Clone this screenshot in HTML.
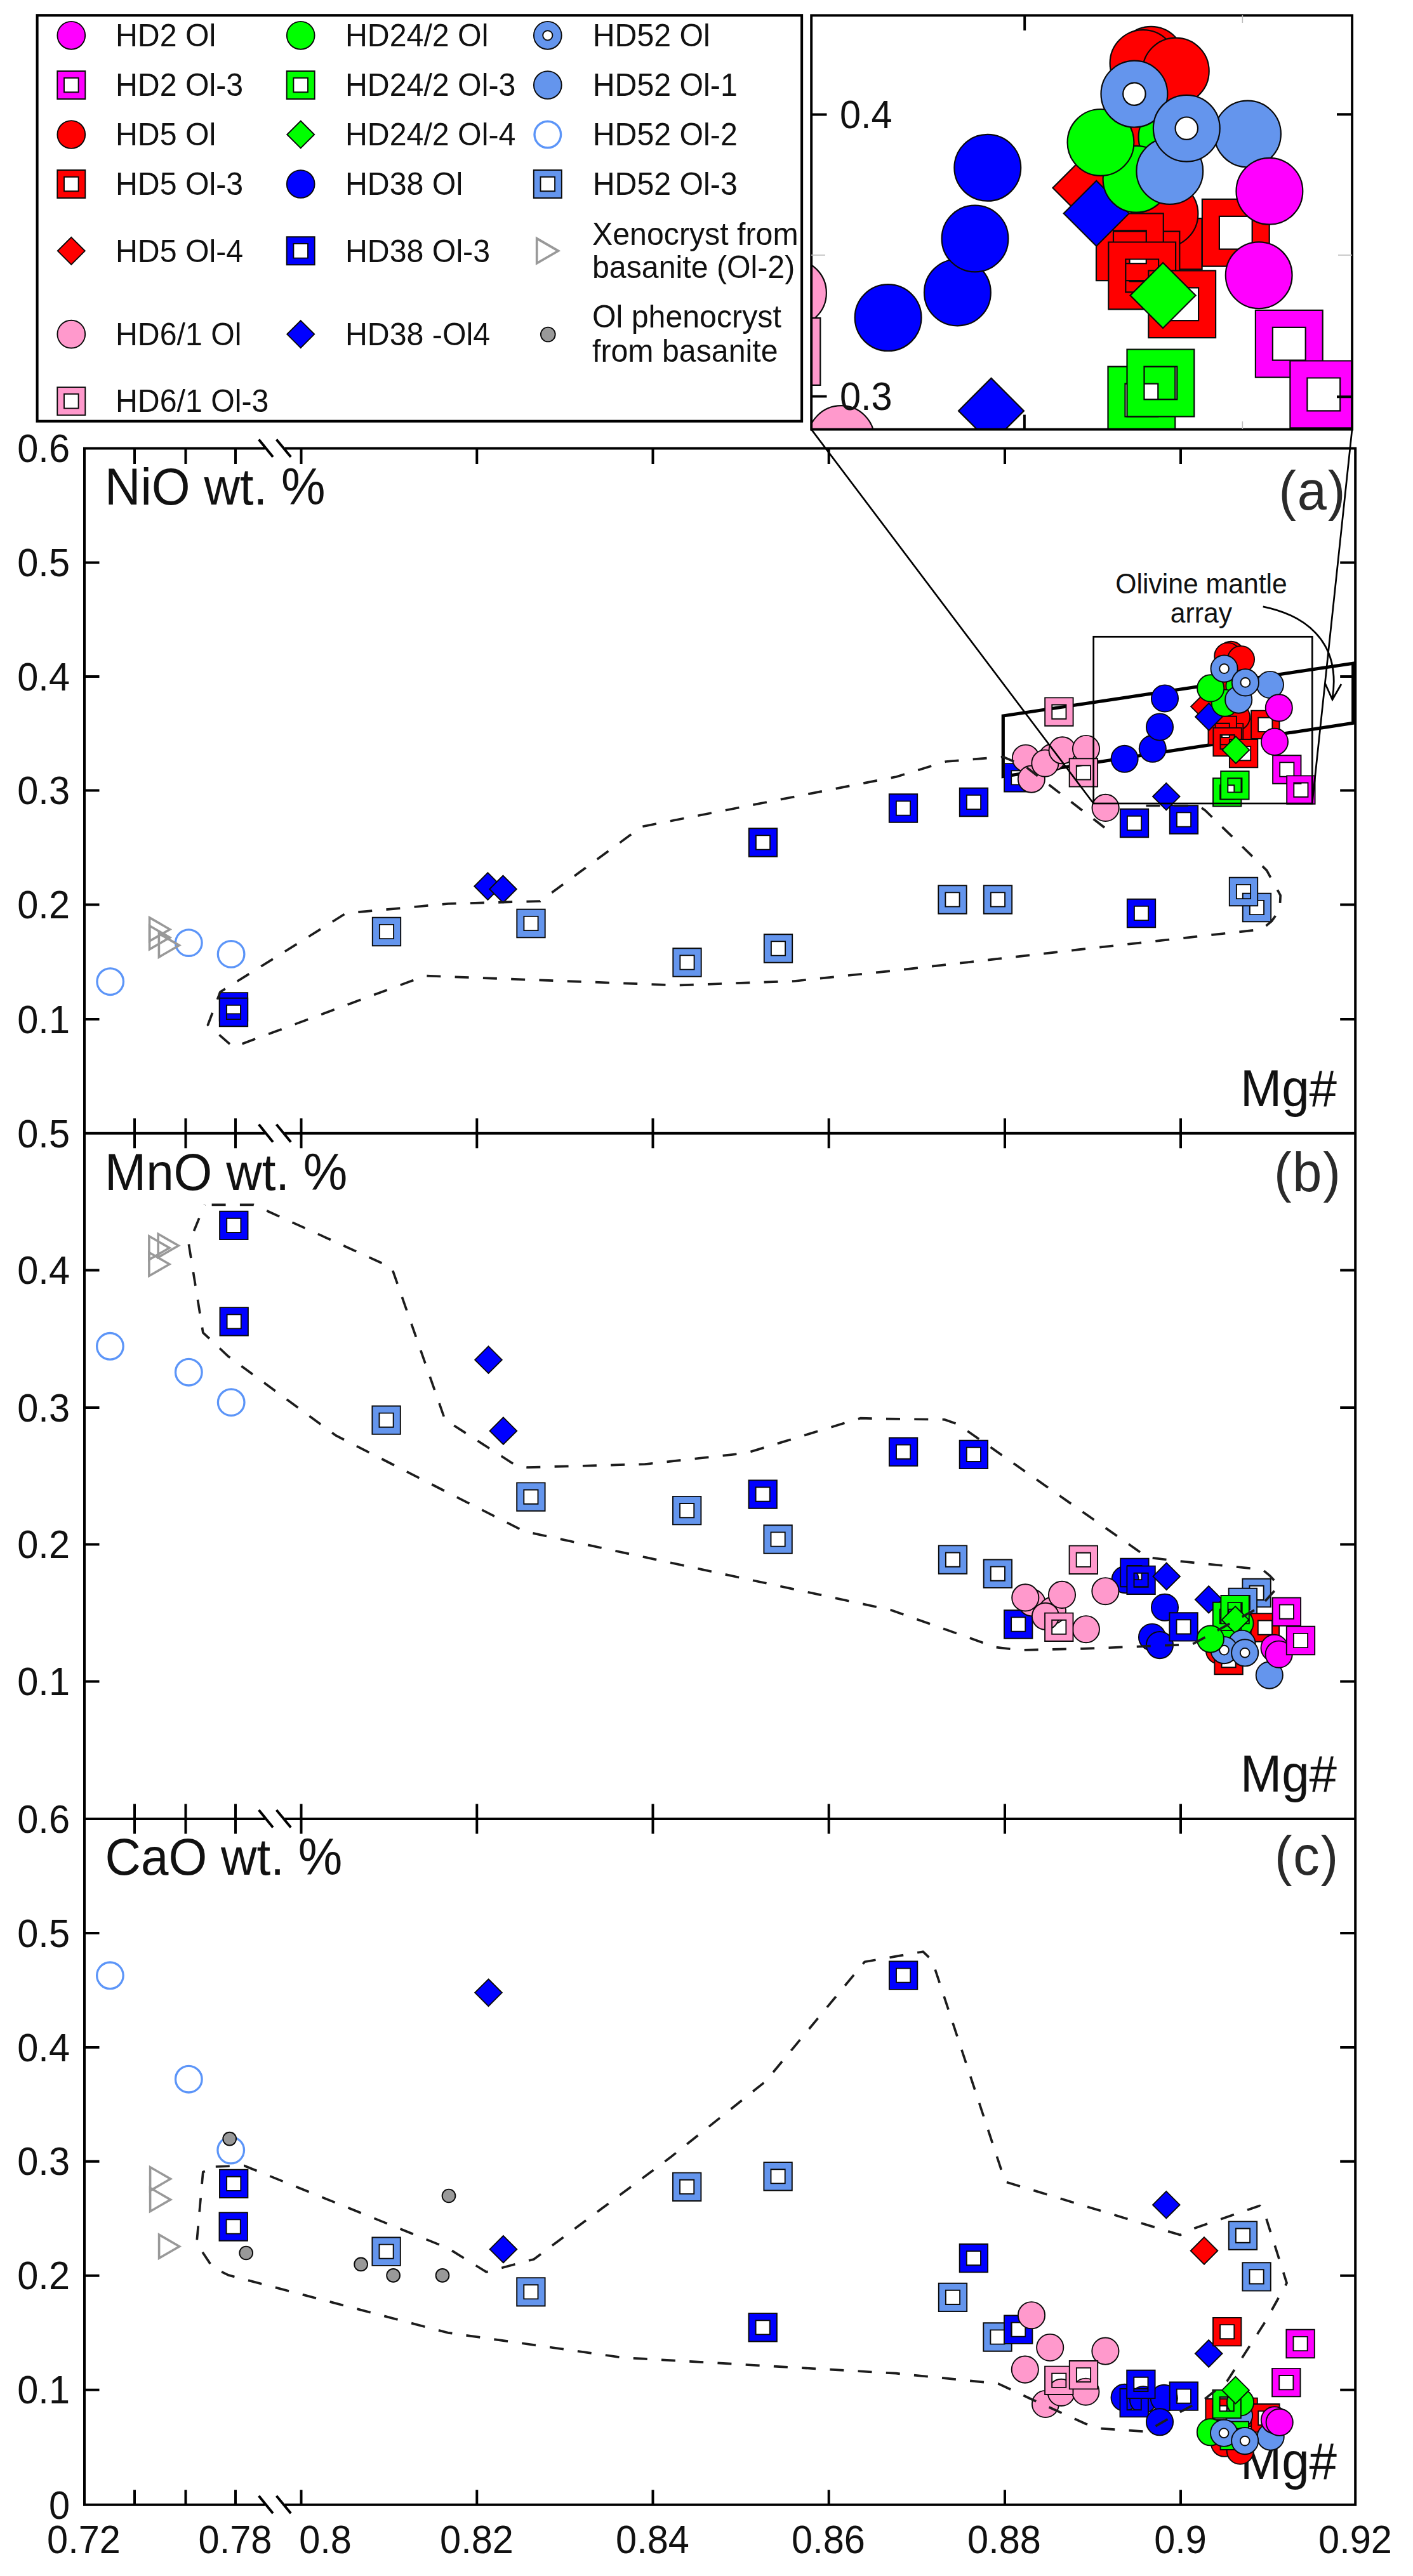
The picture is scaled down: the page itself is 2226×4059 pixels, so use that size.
<!DOCTYPE html>
<html><head><meta charset="utf-8"><title>Olivine composition plots</title>
<style>html,body{margin:0;padding:0;background:#fff}svg{display:block}text{font-family:"Liberation Sans",sans-serif;fill:#111}</style></head><body>
<svg width="2226" height="4059" viewBox="0 0 2226 4059">
<rect width="2226" height="4059" fill="#fff"/>
<defs><clipPath id="ic"><rect x="1278.2" y="24.3" width="851.9" height="652.3"/></clipPath></defs>
<g id="legend">
<rect x="58.6" y="24.2" width="1204.5" height="639.5" fill="#fff" stroke="#000" stroke-width="4.1"/>
<g stroke="#0a0a0a" stroke-width="1.9" fill-rule="evenodd">
<circle cx="112.3" cy="55.8" r="21.9" fill="#ff00ff"/><path d="M90.3 112h44v44h-44zM101 122.7h22.6v22.6h-22.6z" fill="#ff00ff"/><circle cx="112.3" cy="212" r="21.9" fill="#ff0000"/><path d="M90.3 268h44v44h-44zM101 278.7h22.6v22.6h-22.6z" fill="#ff0000"/><path d="M112.3 373.8l21.5 21.5l-21.5 21.5l-21.5 -21.5z" fill="#ff0000"/><circle cx="112.3" cy="526.6" r="21.9" fill="#ff99cc"/><path d="M90.3 610.1h44v44h-44zM101 620.8h22.6v22.6h-22.6z" fill="#ff99cc"/>
<circle cx="473.7" cy="55.8" r="21.9" fill="#00ff00"/><path d="M451.7 112h44v44h-44zM462.4 122.7h22.6v22.6h-22.6z" fill="#00ff00"/><path d="M473.7 190.5l21.5 21.5l-21.5 21.5l-21.5 -21.5z" fill="#00ff00"/><circle cx="473.7" cy="290" r="21.9" fill="#0000ff"/><path d="M451.7 373.3h44v44h-44zM462.4 384h22.6v22.6h-22.6z" fill="#0000ff"/><path d="M473.7 505.1l21.5 21.5l-21.5 21.5l-21.5 -21.5z" fill="#0000ff"/>
<circle cx="862.8" cy="55.8" r="21.9" fill="#6495ed"/><circle cx="862.8" cy="55.8" r="7.6" fill="#fff"/><circle cx="862.8" cy="134" r="21.9" fill="#6495ed"/><path d="M840.8 268h44v44h-44zM851.5 278.7h22.6v22.6h-22.6z" fill="#6495ed"/><circle cx="863.3" cy="527" r="11.4" fill="#999999"/>
</g>
<circle cx="862.8" cy="212" r="20.8" fill="none" stroke="#5c95f8" stroke-width="3.4"/>
<path d="M845.7 375.8v39L879.5 395.3z" fill="none" stroke="#999" stroke-width="3.7"/>
<g>
<text transform="translate(182 73) scale(1 1.045)" font-size="48.3">HD2 Ol</text>
<text transform="translate(182 151.2) scale(1 1.045)" font-size="48.3">HD2 Ol-3</text>
<text transform="translate(182 229.2) scale(1 1.045)" font-size="48.3">HD5 Ol</text>
<text transform="translate(182 307.2) scale(1 1.045)" font-size="48.3">HD5 Ol-3</text>
<text transform="translate(182 412.5) scale(1 1.045)" font-size="48.3">HD5 Ol-4</text>
<text transform="translate(182 543.8) scale(1 1.045)" font-size="48.3">HD6/1 Ol</text>
<text transform="translate(182 649.3) scale(1 1.045)" font-size="48.3">HD6/1 Ol-3</text>
<text transform="translate(544 73) scale(1 1.045)" font-size="48.3">HD24/2 Ol</text>
<text transform="translate(544 151.2) scale(1 1.045)" font-size="48.3">HD24/2 Ol-3</text>
<text transform="translate(544 229.2) scale(1 1.045)" font-size="48.3">HD24/2 Ol-4</text>
<text transform="translate(544 307.2) scale(1 1.045)" font-size="48.3">HD38 Ol</text>
<text transform="translate(544 412.5) scale(1 1.045)" font-size="48.3">HD38 Ol-3</text>
<text transform="translate(544 543.8) scale(1 1.045)" font-size="48.3">HD38 -Ol4</text>
<text transform="translate(933.7 73) scale(1 1.045)" font-size="48.3">HD52 Ol</text>
<text transform="translate(933.7 151.2) scale(1 1.045)" font-size="48.3">HD52 Ol-1</text>
<text transform="translate(933.7 229.2) scale(1 1.045)" font-size="48.3">HD52 Ol-2</text>
<text transform="translate(933.7 307.2) scale(1 1.045)" font-size="48.3">HD52 Ol-3</text>
<text transform="translate(933 385.8) scale(1 1.045)" font-size="48.3">Xenocryst from</text><text transform="translate(933 437.9) scale(1 1.045)" font-size="48.3">basanite (Ol-2)</text>
<text transform="translate(933 516.2) scale(1 1.045)" font-size="48.3">Ol phenocryst</text><text transform="translate(933 570.1) scale(1 1.045)" font-size="48.3">from basanite</text>
</g></g>
<g id="inset">
<g clip-path="url(#ic)" stroke="#0a0a0a" stroke-width="2.2" fill-rule="evenodd">
<path d="M1384.3 698.4h105.8v105.8h-105.8zM1411.3 725.4h51.8v51.8h-51.8z" fill="#0000ff"/>
<path d="M1577 684.8h105.8v105.8h-105.8zM1604 711.8h51.8v51.8h-51.8z" fill="#0000ff"/>
<circle cx="1821" cy="218" r="52.4" fill="#ff0000"/>
<circle cx="1813.4" cy="94.3" r="52.4" fill="#ff0000"/>
<circle cx="1801" cy="99.6" r="52.4" fill="#ff0000"/>
<circle cx="1852.3" cy="112" r="52.4" fill="#ff0000"/>
<path d="M1857 344.2H1893.6V424.4H1857z" fill="#ff0000"/>
<circle cx="1835" cy="337" r="52.4" fill="#ff0000"/>
<path d="M1893.9 313.9h105.8v105.8h-105.8zM1920.9 340.9h51.8v51.8h-51.8z" fill="#ff0000"/>
<path d="M1752.5 364.7h105.8v105.8h-105.8zM1779.5 391.7h51.8v51.8h-51.8z" fill="#ff0000"/>
<path d="M1727 336.4h105.8v105.8h-105.8zM1754 363.4h51.8v51.8h-51.8z" fill="#ff0000"/>
<path d="M1746.3 381.5h105.8v105.8h-105.8zM1773.3 408.5h51.8v51.8h-51.8z" fill="#ff0000"/>
<path d="M1809.3 426.3h105.8v105.8h-105.8zM1836.3 453.3h51.8v51.8h-51.8z" fill="#ff0000"/>
<path d="M1710 244.5l51.5 51.5l-51.5 51.5l-51.5 -51.5z" fill="#ff0000"/>
<circle cx="1399.1" cy="500.6" r="52.4" fill="#0000ff"/>
<circle cx="1508.4" cy="460.9" r="52.4" fill="#0000ff"/>
<circle cx="1536" cy="376" r="52.4" fill="#0000ff"/>
<circle cx="1555.8" cy="264.3" r="52.4" fill="#0000ff"/>
<path d="M1727.2 284.7l51.5 51.5l-51.5 51.5l-51.5 -51.5z" fill="#0000ff"/>
<path d="M1561.5 595.9l51.5 51.5l-51.5 51.5l-51.5 -51.5z" fill="#0000ff"/>
<circle cx="1249.5" cy="461.4" r="52.4" fill="#ff99cc"/>
<circle cx="1325.1" cy="691.6" r="52.4" fill="#ff99cc"/>
<path d="M1186.5 501.1h105.8v105.8h-105.8zM1213.5 528.1h51.8v51.8h-51.8z" fill="#ff99cc"/>
<path d="M1745.5 577.7h105.8v105.8h-105.8zM1772.5 604.7h51.8v51.8h-51.8z" fill="#00ff00"/>
<path d="M1775.5 550.5h105.8v105.8h-105.8zM1802.5 577.5h51.8v51.8h-51.8z" fill="#00ff00"/>
<circle cx="1846" cy="216" r="52.4" fill="#00ff00"/>
<circle cx="1790" cy="282.3" r="52.4" fill="#00ff00"/>
<circle cx="1734" cy="224.4" r="52.4" fill="#00ff00"/>
<path d="M1832.1 414l51.5 51.5l-51.5 51.5l-51.5 -51.5z" fill="#00ff00"/>
<circle cx="1965.5" cy="211.1" r="52.4" fill="#6495ed"/>
<circle cx="1842.8" cy="269.5" r="52.4" fill="#6495ed"/>
<circle cx="1786.9" cy="148.1" r="52.4" fill="#6495ed"/><circle cx="1786.9" cy="148.1" r="17.7" fill="#fff"/>
<circle cx="1869.3" cy="202.2" r="52.4" fill="#6495ed"/><circle cx="1869.3" cy="202.2" r="17.7" fill="#fff"/>
<circle cx="1999.9" cy="301.3" r="52.4" fill="#ff00ff"/>
<circle cx="1983.2" cy="433.7" r="52.4" fill="#ff00ff"/>
<path d="M1977.9 488.9h105.8v105.8h-105.8zM2004.9 515.9h51.8v51.8h-51.8z" fill="#ff00ff"/>
<path d="M2032.4 568.5h105.8v105.8h-105.8zM2059.4 595.5h51.8v51.8h-51.8z" fill="#ff00ff"/>
</g>
<g stroke="#000" stroke-width="3.9" fill="none"><rect x="1278.2" y="24.3" width="851.9" height="652.3"/>
<path d="M1614.2 24v24M1613.9 676.6v-23M1278 180.5h24.5M1278 624.6h24.5M2130 180.3h-24M2130 625.2h-24"/></g>
<path d="M1957.4 24v12M1957.4 676v-12M1278 402h22M2130 402h-22" stroke="#bbb" stroke-width="1.5" fill="none"/>
<text transform="translate(1323 201.5) scale(1 1.045)" font-size="59.5">0.4</text><text transform="translate(1323 646) scale(1 1.045)" font-size="59.5">0.3</text>
</g>
<path d="M1580.3 1128L2131.7 1045.2V1139.3L1580.3 1223.5Z" fill="none" stroke="#000" stroke-width="5.2"/>
<g id="pa" stroke="#0a0a0a" stroke-width="1.9" fill-rule="evenodd">
<circle cx="173.7" cy="1546.7" r="20.8" fill="none" stroke="#5c95f8" stroke-width="3.3"/>
<circle cx="297.3" cy="1485.6" r="20.8" fill="none" stroke="#5c95f8" stroke-width="3.3"/>
<circle cx="364.1" cy="1503.4" r="20.8" fill="none" stroke="#5c95f8" stroke-width="3.3"/>
<path d="M235.6 1445.9v37L267.6 1464.4z" fill="none" stroke="#999" stroke-width="3.6" stroke-linejoin="miter"/>
<path d="M235.6 1458.8v37L267.6 1477.3z" fill="none" stroke="#999" stroke-width="3.6" stroke-linejoin="miter"/>
<path d="M250.4 1471.1v37L282.4 1489.6z" fill="none" stroke="#999" stroke-width="3.6" stroke-linejoin="miter"/>
<path d="M345.8 1564.1h44.4v44.4h-44.4zM356.9 1575.2h22.2v22.2h-22.2z" fill="#0000ff"/>
<path d="M345.8 1572.8h44.4v44.4h-44.4zM356.9 1583.9h22.2v22.2h-22.2z" fill="#0000ff"/>
<path d="M586.8 1445.8h44.4v44.4h-44.4zM597.9 1456.9h22.2v22.2h-22.2z" fill="#6495ed"/>
<path d="M814.3 1432.8h44.4v44.4h-44.4zM825.4 1443.9h22.2v22.2h-22.2z" fill="#6495ed"/>
<path d="M1060.3 1494.3h44.4v44.4h-44.4zM1071.4 1505.4h22.2v22.2h-22.2z" fill="#6495ed"/>
<path d="M1203.8 1472.3h44.4v44.4h-44.4zM1214.9 1483.4h22.2v22.2h-22.2z" fill="#6495ed"/>
<path d="M1478.3 1395.3h44.4v44.4h-44.4zM1489.4 1406.4h22.2v22.2h-22.2z" fill="#6495ed"/>
<path d="M1549.8 1395.3h44.4v44.4h-44.4zM1560.9 1406.4h22.2v22.2h-22.2z" fill="#6495ed"/>
<path d="M1957.8 1407.8h44.4v44.4h-44.4zM1968.9 1418.9h22.2v22.2h-22.2z" fill="#6495ed"/>
<path d="M1936.8 1382.8h44.4v44.4h-44.4zM1947.9 1393.9h22.2v22.2h-22.2z" fill="#6495ed"/>
<path d="M768.5 1375.2l21.3 21.3l-21.3 21.3l-21.3 -21.3z" fill="#0000ff"/>
<path d="M792.5 1379.7l21.3 21.3l-21.3 21.3l-21.3 -21.3z" fill="#0000ff"/>
<path d="M1179.8 1305.3h44.4v44.4h-44.4zM1190.9 1316.4h22.2v22.2h-22.2z" fill="#0000ff"/>
<path d="M1400.8 1251.3h44.4v44.4h-44.4zM1411.9 1262.4h22.2v22.2h-22.2z" fill="#0000ff"/>
<path d="M1511.8 1241.8h44.4v44.4h-44.4zM1522.9 1252.9h22.2v22.2h-22.2z" fill="#0000ff"/>
<path d="M1582.1 1203.1h44.4v44.4h-44.4zM1593.2 1214.2h22.2v22.2h-22.2z" fill="#0000ff"/>
<path d="M1764.8 1274.8h44.4v44.4h-44.4zM1775.9 1285.9h22.2v22.2h-22.2z" fill="#0000ff"/>
<path d="M1842.8 1269.3h44.4v44.4h-44.4zM1853.9 1280.4h22.2v22.2h-22.2z" fill="#0000ff"/>
<path d="M1775.8 1416.8h44.4v44.4h-44.4zM1786.9 1427.9h22.2v22.2h-22.2z" fill="#0000ff"/>
<circle cx="1942.4" cy="1081.8" r="21.1" fill="#ff0000"/>
<circle cx="1939.3" cy="1031.9" r="21.1" fill="#ff0000"/>
<circle cx="1934.3" cy="1034" r="21.1" fill="#ff0000"/>
<circle cx="1955" cy="1039" r="21.1" fill="#ff0000"/>
<path d="M1957 1132.7H1971.8V1165.1H1957z" fill="#ff0000"/>
<circle cx="1948" cy="1129.8" r="21.1" fill="#ff0000"/>
<path d="M1971.1 1119.6h44.4v44.4h-44.4zM1982.2 1130.7h22.2v22.2h-22.2z" fill="#ff0000"/>
<path d="M1913.9 1140.1h44.4v44.4h-44.4zM1925 1151.2h22.2v22.2h-22.2z" fill="#ff0000"/>
<path d="M1903.5 1128.7h44.4v44.4h-44.4zM1914.6 1139.8h22.2v22.2h-22.2z" fill="#ff0000"/>
<path d="M1911.4 1146.9h44.4v44.4h-44.4zM1922.5 1158h22.2v22.2h-22.2z" fill="#ff0000"/>
<path d="M1936.9 1165h44.4v44.4h-44.4zM1948 1176.1h22.2v22.2h-22.2z" fill="#ff0000"/>
<path d="M1897.4 1092l21.3 21.3l-21.3 21.3l-21.3 -21.3z" fill="#ff0000"/>
<circle cx="1771.6" cy="1195.8" r="21.1" fill="#0000ff"/>
<circle cx="1815.8" cy="1179.8" r="21.1" fill="#0000ff"/>
<circle cx="1827" cy="1145.5" r="21.1" fill="#0000ff"/>
<circle cx="1835" cy="1100.5" r="21.1" fill="#0000ff"/>
<path d="M1904.4 1108.2l21.3 21.3l-21.3 21.3l-21.3 -21.3z" fill="#0000ff"/>
<path d="M1837.3 1233.8l21.3 21.3l-21.3 21.3l-21.3 -21.3z" fill="#0000ff"/>
<circle cx="1615.9" cy="1194.7" r="21.1" fill="#ff99cc"/>
<circle cx="1624.9" cy="1227.6" r="21.1" fill="#ff99cc"/>
<circle cx="1657.8" cy="1193.6" r="21.1" fill="#ff99cc"/>
<circle cx="1646.4" cy="1202.7" r="21.1" fill="#ff99cc"/>
<circle cx="1673.6" cy="1182.3" r="21.1" fill="#ff99cc"/>
<circle cx="1711" cy="1180" r="21.1" fill="#ff99cc"/>
<circle cx="1741.6" cy="1272.9" r="21.1" fill="#ff99cc"/>
<path d="M1646.2 1099.4h44.4v44.4h-44.4zM1657.3 1110.5h22.2v22.2h-22.2z" fill="#ff99cc"/>
<path d="M1684.7 1195.2h44.4v44.4h-44.4zM1695.8 1206.3h22.2v22.2h-22.2z" fill="#ff99cc"/>
<path d="M1911 1226.1h44.4v44.4h-44.4zM1922.1 1237.2h22.2v22.2h-22.2z" fill="#00ff00"/>
<path d="M1923.2 1215.1h44.4v44.4h-44.4zM1934.3 1226.2h22.2v22.2h-22.2z" fill="#00ff00"/>
<circle cx="1952.5" cy="1081" r="21.1" fill="#00ff00"/>
<circle cx="1929.8" cy="1107.7" r="21.1" fill="#00ff00"/>
<circle cx="1907.2" cy="1084.4" r="21.1" fill="#00ff00"/>
<path d="M1946.9 1160.4l21.3 21.3l-21.3 21.3l-21.3 -21.3z" fill="#00ff00"/>
<circle cx="2000.9" cy="1079" r="21.1" fill="#6495ed"/>
<circle cx="1951.2" cy="1102.6" r="21.1" fill="#6495ed"/>
<circle cx="1928.6" cy="1053.6" r="21.1" fill="#6495ed"/><circle cx="1928.6" cy="1053.6" r="7.4" fill="#fff"/>
<circle cx="1961.9" cy="1075.4" r="21.1" fill="#6495ed"/><circle cx="1961.9" cy="1075.4" r="7.4" fill="#fff"/>
<circle cx="2014.8" cy="1115.4" r="21.1" fill="#ff00ff"/>
<circle cx="2008" cy="1168.8" r="21.1" fill="#ff00ff"/>
<path d="M2005.1 1190.3h44.4v44.4h-44.4zM2016.2 1201.4h22.2v22.2h-22.2z" fill="#ff00ff"/>
<path d="M2027.2 1222.4h44.4v44.4h-44.4zM2038.3 1233.5h22.2v22.2h-22.2z" fill="#ff00ff"/>
</g>
<g fill="none" stroke="#000" stroke-width="2.7"><rect x="1722.7" y="1003.3" width="344.6" height="262.7"/><path d="M1278.2 676.6L1722.7 1266M2130 676.6L2067.2 1266"/>
<path d="M1989.7 955.8C2050 968 2114 1006 2099 1101M2087.6 1077L2099 1102.5L2113 1078" stroke-width="2.8"/></g>
<path d="M1740 1304 L1615 1207.5 L1580 1192.5 L1490 1200 L1412 1224 L1011 1302.5 L851 1420 L706 1424 L545 1439 L347 1563 L327.5 1615 L367.5 1650 L670 1537.5 L706 1539 L1066 1552.5 L1251 1546 L1412 1529 L1700 1496.2 L1987.9 1464.4 L2003.2 1451.7 L2016 1433.8 L2017.2 1410.9 L1995.5 1371.4 L1898.7 1277 L1888 1269.5 L1790 1269.5" fill="none" stroke="#1c1c1c" stroke-width="3.7" stroke-dasharray="22 22.3" stroke-dashoffset="0" stroke-linejoin="round"/>
<text transform="translate(1892.5 935) scale(1 1.045)" font-size="42.7" text-anchor="middle">Olivine mantle</text><text transform="translate(1892.5 981) scale(1 1.045)" font-size="42.7" text-anchor="middle">array</text>
<text transform="translate(165 794.5) scale(1 1.045)" font-size="78.2">NiO wt. %</text><text transform="translate(165 1874.5) scale(1 1.045)" font-size="78.2">MnO wt. %</text><text transform="translate(165.5 2953.5) scale(1 1.045)" font-size="78.2">CaO wt. %</text>
<text transform="translate(1954 1743) scale(1 1.045)" font-size="78.2">Mg#</text><text transform="translate(1954 2823) scale(1 1.045)" font-size="78.2">Mg#</text><text transform="translate(1954 3906.3) scale(1 1.045)" font-size="78.2">Mg#</text>
<text transform="translate(2014.5 802.5) scale(1 1.045)" font-size="83" style="fill:#2a2a2a;letter-spacing:1.7px">(a)</text><text transform="translate(2007 1877) scale(1 1.045)" font-size="83" style="fill:#2a2a2a;letter-spacing:1.7px">(b)</text><text transform="translate(2008 2954) scale(1 1.045)" font-size="83" style="fill:#2a2a2a;letter-spacing:1.7px">(c)</text>
<g id="pb" stroke="#0a0a0a" stroke-width="1.9" fill-rule="evenodd">
<circle cx="173.4" cy="2121.3" r="20.8" fill="none" stroke="#5c95f8" stroke-width="3.3"/>
<circle cx="297.3" cy="2162.2" r="20.8" fill="none" stroke="#5c95f8" stroke-width="3.3"/>
<circle cx="364.2" cy="2209.7" r="20.8" fill="none" stroke="#5c95f8" stroke-width="3.3"/>
<path d="M234.9 1947.8v37L266.9 1966.3z" fill="none" stroke="#999" stroke-width="3.6" stroke-linejoin="miter"/>
<path d="M249.2 1944.3v37L281.2 1962.8z" fill="none" stroke="#999" stroke-width="3.6" stroke-linejoin="miter"/>
<path d="M234.9 1973.5v37L266.9 1992z" fill="none" stroke="#999" stroke-width="3.6" stroke-linejoin="miter"/>
<path d="M346.1 1908.7h44.4v44.4h-44.4zM357.2 1919.8h22.2v22.2h-22.2z" fill="#0000ff"/>
<path d="M346.5 2060.1h44.4v44.4h-44.4zM357.6 2071.2h22.2v22.2h-22.2z" fill="#0000ff"/>
<path d="M586.4 2215.5h44.4v44.4h-44.4zM597.5 2226.6h22.2v22.2h-22.2z" fill="#6495ed"/>
<path d="M814.2 2336.4h44.4v44.4h-44.4zM825.3 2347.5h22.2v22.2h-22.2z" fill="#6495ed"/>
<path d="M1060 2357.9h44.4v44.4h-44.4zM1071.1 2369h22.2v22.2h-22.2z" fill="#6495ed"/>
<path d="M1203.4 2403.3h44.4v44.4h-44.4zM1214.5 2414.4h22.2v22.2h-22.2z" fill="#6495ed"/>
<path d="M1478.8 2435.4h44.4v44.4h-44.4zM1489.9 2446.5h22.2v22.2h-22.2z" fill="#6495ed"/>
<path d="M1549.7 2457.5h44.4v44.4h-44.4zM1560.8 2468.6h22.2v22.2h-22.2z" fill="#6495ed"/>
<path d="M1957.4 2487.7h44.4v44.4h-44.4zM1968.5 2498.8h22.2v22.2h-22.2z" fill="#6495ed"/>
<path d="M1935.7 2502.8h44.4v44.4h-44.4zM1946.8 2513.9h22.2v22.2h-22.2z" fill="#6495ed"/>
<path d="M769.5 2121.4l21.3 21.3l-21.3 21.3l-21.3 -21.3z" fill="#0000ff"/>
<path d="M792.9 2233.4l21.3 21.3l-21.3 21.3l-21.3 -21.3z" fill="#0000ff"/>
<circle cx="1921" cy="2601" r="21.1" fill="#ff0000"/>
<path d="M1913.4 2593.9h44.4v44.4h-44.4zM1924.5 2605h22.2v22.2h-22.2z" fill="#ff0000"/>
<path d="M1970.7 2542.4h44.4v44.4h-44.4zM1981.8 2553.5h22.2v22.2h-22.2z" fill="#ff0000"/>
<circle cx="1772.7" cy="2489.1" r="21.1" fill="#0000ff"/>
<circle cx="1835" cy="2532.8" r="21.1" fill="#0000ff"/>
<circle cx="1815" cy="2579.7" r="21.1" fill="#0000ff"/>
<circle cx="1827" cy="2592.1" r="21.1" fill="#0000ff"/>
<path d="M1179.5 2332.4h44.4v44.4h-44.4zM1190.6 2343.5h22.2v22.2h-22.2z" fill="#0000ff"/>
<path d="M1400.9 2265.5h44.4v44.4h-44.4zM1412 2276.6h22.2v22.2h-22.2z" fill="#0000ff"/>
<path d="M1511.7 2269.7h44.4v44.4h-44.4zM1522.8 2280.8h22.2v22.2h-22.2z" fill="#0000ff"/>
<path d="M1582 2537.3h44.4v44.4h-44.4zM1593.1 2548.4h22.2v22.2h-22.2z" fill="#0000ff"/>
<path d="M1765.2 2455.8h44.4v44.4h-44.4zM1776.3 2466.9h22.2v22.2h-22.2z" fill="#0000ff"/>
<path d="M1775.4 2467.6h44.4v44.4h-44.4zM1786.5 2478.7h22.2v22.2h-22.2z" fill="#0000ff"/>
<path d="M1842.4 2541.2h44.4v44.4h-44.4zM1853.5 2552.3h22.2v22.2h-22.2z" fill="#0000ff"/>
<path d="M1837.7 2462.6l21.3 21.3l-21.3 21.3l-21.3 -21.3z" fill="#0000ff"/>
<path d="M1904.2 2499.1l21.3 21.3l-21.3 21.3l-21.3 -21.3z" fill="#0000ff"/>
<circle cx="1625.5" cy="2525.3" r="21.1" fill="#ff99cc"/>
<circle cx="1658" cy="2537.8" r="21.1" fill="#ff99cc"/>
<circle cx="1615.3" cy="2517.4" r="21.1" fill="#ff99cc"/>
<circle cx="1647" cy="2546.8" r="21.1" fill="#ff99cc"/>
<circle cx="1673" cy="2512.9" r="21.1" fill="#ff99cc"/>
<circle cx="1741.4" cy="2507.2" r="21.1" fill="#ff99cc"/>
<circle cx="1710.9" cy="2567.2" r="21.1" fill="#ff99cc"/>
<path d="M1684.6 2435.6h44.4v44.4h-44.4zM1695.7 2446.7h22.2v22.2h-22.2z" fill="#ff99cc"/>
<path d="M1646.1 2541.6h44.4v44.4h-44.4zM1657.2 2552.7h22.2v22.2h-22.2z" fill="#ff99cc"/>
<circle cx="1953.5" cy="2557.8" r="21.1" fill="#00ff00"/>
<circle cx="1933.6" cy="2567" r="21.1" fill="#00ff00"/>
<path d="M1910.8 2524.7h44.4v44.4h-44.4zM1921.9 2535.8h22.2v22.2h-22.2z" fill="#00ff00"/>
<path d="M1923.4 2514h44.4v44.4h-44.4zM1934.5 2525.1h22.2v22.2h-22.2z" fill="#00ff00"/>
<path d="M1946.1 2531.1l21.3 21.3l-21.3 21.3l-21.3 -21.3z" fill="#00ff00"/>
<circle cx="1956.5" cy="2590" r="21.1" fill="#6495ed"/>
<circle cx="1999.8" cy="2639.6" r="21.1" fill="#6495ed"/>
<circle cx="1928.5" cy="2600.1" r="21.1" fill="#6495ed"/><circle cx="1928.5" cy="2600.1" r="7.4" fill="#fff"/>
<circle cx="1906.9" cy="2582.6" r="21.1" fill="#00ff00"/>
<circle cx="1961.2" cy="2604.3" r="21.1" fill="#6495ed"/><circle cx="1961.2" cy="2604.3" r="7.4" fill="#fff"/>
<circle cx="2007.6" cy="2596.8" r="21.1" fill="#ff00ff"/>
<circle cx="2014.7" cy="2606.7" r="21.1" fill="#ff00ff"/>
<path d="M2004.7 2517.5h44.4v44.4h-44.4zM2015.8 2528.6h22.2v22.2h-22.2z" fill="#ff00ff"/>
<path d="M2026.8 2562.8h44.4v44.4h-44.4zM2037.9 2573.9h22.2v22.2h-22.2z" fill="#ff00ff"/>
</g>
<path d="M322.3 1898.4 L399.7 1898.4 L617.1 1997.3 L701 2237 L813.4 2309.6 L830.9 2312.1 L1015.8 2307.1 L1175.7 2289.6 L1355.5 2234.7 L1395.5 2235.7 L1487.8 2236.8 L1508.7 2244 L1807.8 2454 L1860 2460.2 L1988.8 2473.1 L2000.8 2483.2 L2014.9 2498.5 L1985.1 2532 L1878.4 2590.9 L1796.5 2594.4 L1705.9 2597.8 L1606.2 2600 L1568.3 2595.5 L1403.6 2536.9 L825.9 2412.9 L706 2352.1 L529.6 2262.2 L359.7 2137.3 L319.8 2099.8 L297.3 1959.9 Z" fill="none" stroke="#1c1c1c" stroke-width="3.7" stroke-dasharray="22 22.3" stroke-dashoffset="33" stroke-linejoin="round"/>
<g id="pc" stroke="#0a0a0a" stroke-width="1.9" fill-rule="evenodd">
<circle cx="173.4" cy="3112.8" r="20.8" fill="none" stroke="#5c95f8" stroke-width="3.3"/>
<circle cx="297.3" cy="3276.2" r="20.8" fill="none" stroke="#5c95f8" stroke-width="3.3"/>
<circle cx="363.7" cy="3388.1" r="20.8" fill="none" stroke="#5c95f8" stroke-width="3.3"/>
<path d="M236.6 3414.8v37L268.6 3433.3z" fill="none" stroke="#999" stroke-width="3.6" stroke-linejoin="miter"/>
<path d="M236.6 3447.5v37L268.6 3466z" fill="none" stroke="#999" stroke-width="3.6" stroke-linejoin="miter"/>
<path d="M250.6 3521.2v37L282.6 3539.7z" fill="none" stroke="#999" stroke-width="3.6" stroke-linejoin="miter"/>
<circle cx="361.7" cy="3370.1" r="10.4" fill="#999999"/>
<circle cx="387.7" cy="3550" r="10.4" fill="#999999"/>
<circle cx="568.6" cy="3567.9" r="10.4" fill="#999999"/>
<circle cx="619.6" cy="3585.4" r="10.4" fill="#999999"/>
<circle cx="697" cy="3585.4" r="10.4" fill="#999999"/>
<circle cx="707" cy="3460" r="10.4" fill="#999999"/>
<path d="M346 3418.6h44.4v44.4h-44.4zM357.1 3429.7h22.2v22.2h-22.2z" fill="#0000ff"/>
<path d="M345.5 3486.3h44.4v44.4h-44.4zM356.6 3497.4h22.2v22.2h-22.2z" fill="#0000ff"/>
<path d="M586.4 3525.5h44.4v44.4h-44.4zM597.5 3536.6h22.2v22.2h-22.2z" fill="#6495ed"/>
<path d="M814.2 3589.1h44.4v44.4h-44.4zM825.3 3600.2h22.2v22.2h-22.2z" fill="#6495ed"/>
<path d="M1060 3423.6h44.4v44.4h-44.4zM1071.1 3434.7h22.2v22.2h-22.2z" fill="#6495ed"/>
<path d="M1203.4 3407.1h44.4v44.4h-44.4zM1214.5 3418.2h22.2v22.2h-22.2z" fill="#6495ed"/>
<path d="M1478.8 3597.7h44.4v44.4h-44.4zM1489.9 3608.8h22.2v22.2h-22.2z" fill="#6495ed"/>
<path d="M1549.3 3660.3h44.4v44.4h-44.4zM1560.4 3671.4h22.2v22.2h-22.2z" fill="#6495ed"/>
<path d="M1935.8 3500.4h44.4v44.4h-44.4zM1946.9 3511.5h22.2v22.2h-22.2z" fill="#6495ed"/>
<path d="M1957.4 3565.2h44.4v44.4h-44.4zM1968.5 3576.3h22.2v22.2h-22.2z" fill="#6495ed"/>
<path d="M769.5 3118.5l21.3 21.3l-21.3 21.3l-21.3 -21.3z" fill="#0000ff"/>
<path d="M792.9 3522.9l21.3 21.3l-21.3 21.3l-21.3 -21.3z" fill="#0000ff"/>
<path d="M1837.3 3452.9l21.3 21.3l-21.3 21.3l-21.3 -21.3z" fill="#0000ff"/>
<path d="M1904.2 3687.2l21.3 21.3l-21.3 21.3l-21.3 -21.3z" fill="#0000ff"/>
<path d="M1897 3525.2l21.3 21.3l-21.3 21.3l-21.3 -21.3z" fill="#ff0000"/>
<path d="M1911 3652h44.4v44.4h-44.4zM1922.1 3663.1h22.2v22.2h-22.2z" fill="#ff0000"/>
<circle cx="1929" cy="3849.8" r="21.1" fill="#ff0000"/>
<circle cx="1953.8" cy="3861.7" r="21.1" fill="#ff0000"/>
<path d="M1899.4 3779.7h44.4v44.4h-44.4zM1910.5 3790.8h22.2v22.2h-22.2z" fill="#ff0000"/>
<path d="M1936.4 3778.6h44.4v44.4h-44.4zM1947.5 3789.7h22.2v22.2h-22.2z" fill="#ff0000"/>
<path d="M1971.2 3788h44.4v44.4h-44.4zM1982.3 3799.1h22.2v22.2h-22.2z" fill="#ff0000"/>
<path d="M1179.5 3645.1h44.4v44.4h-44.4zM1190.6 3656.2h22.2v22.2h-22.2z" fill="#0000ff"/>
<path d="M1400.9 3090.5h44.4v44.4h-44.4zM1412 3101.6h22.2v22.2h-22.2z" fill="#0000ff"/>
<path d="M1511.7 3536h44.4v44.4h-44.4zM1522.8 3547.1h22.2v22.2h-22.2z" fill="#0000ff"/>
<path d="M1582 3648.5h44.4v44.4h-44.4zM1593.1 3659.6h22.2v22.2h-22.2z" fill="#0000ff"/>
<circle cx="1771.6" cy="3777.8" r="21.1" fill="#0000ff"/>
<circle cx="1801" cy="3781.2" r="21.1" fill="#0000ff"/>
<circle cx="1833.8" cy="3778.9" r="21.1" fill="#0000ff"/>
<path d="M1764.5 3764h44.4v44.4h-44.4zM1775.6 3775.1h22.2v22.2h-22.2z" fill="#0000ff"/>
<circle cx="1827" cy="3816.3" r="21.1" fill="#0000ff"/>
<path d="M1775.2 3734.7h44.4v44.4h-44.4zM1786.3 3745.8h22.2v22.2h-22.2z" fill="#0000ff"/>
<path d="M1842.7 3753.5h44.4v44.4h-44.4zM1853.8 3764.6h22.2v22.2h-22.2z" fill="#0000ff"/>
<circle cx="1625" cy="3648.2" r="21.1" fill="#ff99cc"/>
<circle cx="1654.2" cy="3699" r="21.1" fill="#ff99cc"/>
<circle cx="1741.4" cy="3704.6" r="21.1" fill="#ff99cc"/>
<circle cx="1614.8" cy="3733.6" r="21.1" fill="#ff99cc"/>
<circle cx="1647" cy="3788" r="21.1" fill="#ff99cc"/>
<circle cx="1671.9" cy="3769.9" r="21.1" fill="#ff99cc"/>
<circle cx="1710.4" cy="3768.7" r="21.1" fill="#ff99cc"/>
<path d="M1646.1 3728.6h44.4v44.4h-44.4zM1657.2 3739.7h22.2v22.2h-22.2z" fill="#ff99cc"/>
<path d="M1684.8 3720h44.4v44.4h-44.4zM1695.9 3731.1h22.2v22.2h-22.2z" fill="#ff99cc"/>
<circle cx="1952" cy="3806" r="21.1" fill="#6495ed"/>
<path d="M1922.6 3815.6h44.4v44.4h-44.4zM1933.7 3826.7h22.2v22.2h-22.2z" fill="#00ff00"/>
<circle cx="1906.9" cy="3832.3" r="21.1" fill="#00ff00"/>
<circle cx="1954" cy="3785.4" r="21.1" fill="#00ff00"/>
<path d="M1910.5 3765.9h44.4v44.4h-44.4zM1921.6 3777h22.2v22.2h-22.2z" fill="#00ff00"/>
<path d="M1946.5 3744.9l21.3 21.3l-21.3 21.3l-21.3 -21.3z" fill="#00ff00"/>
<circle cx="2001.7" cy="3839.6" r="21.1" fill="#6495ed"/>
<circle cx="1928.1" cy="3833.8" r="21.1" fill="#6495ed"/><circle cx="1928.1" cy="3833.8" r="7.4" fill="#fff"/>
<circle cx="1961.2" cy="3846.1" r="21.1" fill="#6495ed"/><circle cx="1961.2" cy="3846.1" r="7.4" fill="#fff"/>
<circle cx="2007.9" cy="3813.3" r="21.1" fill="#ff00ff"/>
<circle cx="2015.7" cy="3816.8" r="21.1" fill="#ff00ff"/>
<path d="M2026.4 3670.8h44.4v44.4h-44.4zM2037.5 3681.9h22.2v22.2h-22.2z" fill="#ff00ff"/>
<path d="M2004.1 3731.9h44.4v44.4h-44.4zM2015.2 3743h22.2v22.2h-22.2z" fill="#ff00ff"/>
</g>
<path d="M339.8 3414 L384.7 3412.5 L705.5 3542.4 L766 3579.9 L840.9 3560 L1055.8 3399.6 L1206.2 3279.5 L1362.2 3091.3 L1454 3075.2 L1468.5 3089 L1583.6 3437.8 L1859 3521.6 L1877 3512.6 L1984.7 3475.5 L1990.7 3482.7 L2027.1 3597.4 L1994.3 3656.6 L1933.6 3751.3 L1899.6 3778.9 L1860 3800.1 L1805.5 3831.5 L1733.1 3826.5 L1710.4 3819.2 L1626.6 3781.2 L1572.4 3755.8 L1472.5 3745.8 L1411.5 3739.7 L980.8 3714.8 L706 3675.8 L359.7 3584.9 L334.8 3572.4 L309.8 3534.9 L319.8 3422.5 Z" fill="none" stroke="#1c1c1c" stroke-width="3.7" stroke-dasharray="22 22.3" stroke-dashoffset="0" stroke-linejoin="round"/>
<path d="M133 704.4V3948.7M2135.2 704.4V3948.7M133 706.4H417M448.5 706.4H2135.2M133 1785.8H417M448.5 1785.8H2135.2M133 2866H417M448.5 2866H2135.2M133 3946.7H417M448.5 3946.7H2135.2M212 706.4v24.5M212 1762.3v47M212 2842.5v47M212 3946.7v-23.5M292.5 706.4v24.5M292.5 1762.3v47M292.5 2842.5v47M292.5 3946.7v-23.5M371 706.4v24.5M371 1762.3v47M371 2842.5v47M371 3946.7v-23.5M474.5 706.4v24.5M474.5 1762.3v47M474.5 2842.5v47M474.5 3946.7v-23.5M751.3 706.4v24.5M751.3 1762.3v47M751.3 2842.5v47M751.3 3946.7v-23.5M1028.5 706.4v24.5M1028.5 1762.3v47M1028.5 2842.5v47M1028.5 3946.7v-23.5M1305.7 706.4v24.5M1305.7 1762.3v47M1305.7 2842.5v47M1305.7 3946.7v-23.5M1583 706.4v24.5M1583 1762.3v47M1583 2842.5v47M1583 3946.7v-23.5M1860 706.4v24.5M1860 1762.3v47M1860 2842.5v47M1860 3946.7v-23.5M133 886.5h23.5M2135.2 886.5h-24M133 1066h23.5M2135.2 1066h-24M133 1245.5h23.5M2135.2 1245.5h-24M133 1425.5h23.5M2135.2 1425.5h-24M133 1606h23.5M2135.2 1606h-24M133 2001.5h23.5M2135.2 2001.5h-24M133 2218h23.5M2135.2 2218h-24M133 2433.5h23.5M2135.2 2433.5h-24M133 2649.5h23.5M2135.2 2649.5h-24M133 3046h23.5M2135.2 3046h-24M133 3226h23.5M2135.2 3226h-24M133 3405.8h23.5M2135.2 3405.8h-24M133 3585.8h23.5M2135.2 3585.8h-24M133 3765.7h23.5M2135.2 3765.7h-24M407.7 692.4l22.3 27.6M435.5 692.4l22.7 27.6M407.7 1771.8l22.3 27.6M435.5 1771.8l22.7 27.6M407.7 2852l22.3 27.6M435.5 2852l22.7 27.6M407.7 3932.7l22.3 27.6M435.5 3932.7l22.7 27.6" fill="none" stroke="#000" stroke-width="4"/>
<g>
<text transform="translate(110 728) scale(1 1.045)" font-size="59.5" text-anchor="end">0.6</text>
<text transform="translate(110 908) scale(1 1.045)" font-size="59.5" text-anchor="end">0.5</text>
<text transform="translate(110 1087.5) scale(1 1.045)" font-size="59.5" text-anchor="end">0.4</text>
<text transform="translate(110 1267) scale(1 1.045)" font-size="59.5" text-anchor="end">0.3</text>
<text transform="translate(110 1447) scale(1 1.045)" font-size="59.5" text-anchor="end">0.2</text>
<text transform="translate(110 1627.5) scale(1 1.045)" font-size="59.5" text-anchor="end">0.1</text>
<text transform="translate(110 1807.5) scale(1 1.045)" font-size="59.5" text-anchor="end">0.5</text>
<text transform="translate(110 2023) scale(1 1.045)" font-size="59.5" text-anchor="end">0.4</text>
<text transform="translate(110 2239.5) scale(1 1.045)" font-size="59.5" text-anchor="end">0.3</text>
<text transform="translate(110 2455) scale(1 1.045)" font-size="59.5" text-anchor="end">0.2</text>
<text transform="translate(110 2671) scale(1 1.045)" font-size="59.5" text-anchor="end">0.1</text>
<text transform="translate(110 2887.5) scale(1 1.045)" font-size="59.5" text-anchor="end">0.6</text>
<text transform="translate(110 3067.5) scale(1 1.045)" font-size="59.5" text-anchor="end">0.5</text>
<text transform="translate(110 3247.5) scale(1 1.045)" font-size="59.5" text-anchor="end">0.4</text>
<text transform="translate(110 3427.3) scale(1 1.045)" font-size="59.5" text-anchor="end">0.3</text>
<text transform="translate(110 3607.3) scale(1 1.045)" font-size="59.5" text-anchor="end">0.2</text>
<text transform="translate(110 3787.2) scale(1 1.045)" font-size="59.5" text-anchor="end">0.1</text>
<text transform="translate(110 3969) scale(1 1.045)" font-size="59.5" text-anchor="end">0</text>
</g><g>
<text transform="translate(132 4023.2) scale(1 1.045)" font-size="59.5" text-anchor="middle">0.72</text>
<text transform="translate(370.5 4023.2) scale(1 1.045)" font-size="59.5" text-anchor="middle">0.78</text>
<text transform="translate(512.5 4023.2) scale(1 1.045)" font-size="59.5" text-anchor="middle">0.8</text>
<text transform="translate(751 4023.2) scale(1 1.045)" font-size="59.5" text-anchor="middle">0.82</text>
<text transform="translate(1028 4023.2) scale(1 1.045)" font-size="59.5" text-anchor="middle">0.84</text>
<text transform="translate(1305 4023.2) scale(1 1.045)" font-size="59.5" text-anchor="middle">0.86</text>
<text transform="translate(1582 4023.2) scale(1 1.045)" font-size="59.5" text-anchor="middle">0.88</text>
<text transform="translate(1859.5 4023.2) scale(1 1.045)" font-size="59.5" text-anchor="middle">0.9</text>
<text transform="translate(2135 4023.2) scale(1 1.045)" font-size="59.5" text-anchor="middle">0.92</text>
</g>
</svg></body></html>
